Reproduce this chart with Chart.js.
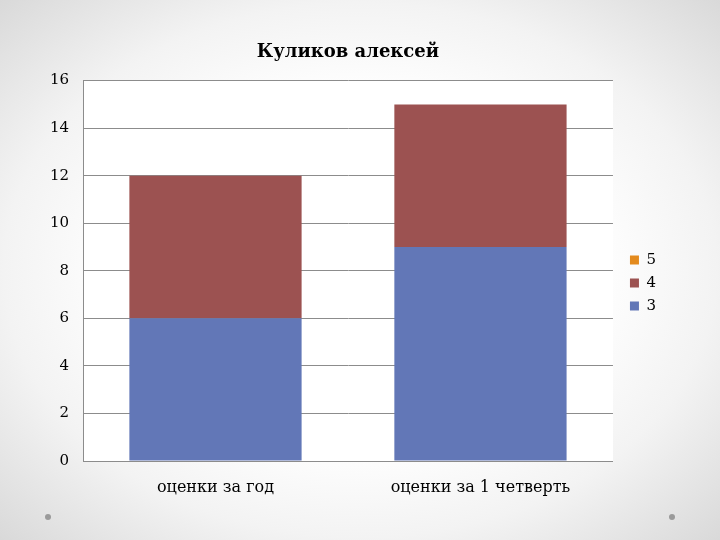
<!DOCTYPE html>
<html lang="ru">
<head>
    <meta charset="UTF-8">
    <title>Куликов алексей</title>
    <script src="https://cdn.jsdelivr.net/npm/chart.js"></script>
    <style>
        html, body {
            margin: 0;
            padding: 0;
            width: 720px;
            height: 540px;
            overflow: hidden;
        }
        body {
            background: radial-gradient(ellipse at 50% 50%, #ffffff 45%, #f3f3f3 70%, #d9d9d9 100%);
            position: relative;
        }
        .wrap {
            position: absolute;
            left: 0;
            top: 0;
            width: 720px;
            height: 540px;
        }
        .dot {
            position: absolute;
            width: 6px;
            height: 6px;
            border-radius: 50%;
            background: #9a9a9a;
            top: 514px;
        }
    </style>
</head>
<body>
    <div class="wrap"><canvas id="chart" width="720" height="540"></canvas></div>
    <div class="dot" style="left:45px"></div>
    <div class="dot" style="left:669px"></div>

    <script>
        // chart data
        const categories = ['оценки за год', 'оценки за 1 четверть'];
        const grade3 = [6, 9];
        const grade4 = [6, 6];
        const grade5 = [0, 0];
        const yTicks = [0, 2, 4, 6, 8, 10, 12, 14, 16];

        const serif = '"DejaVu Serif", "Liberation Serif", serif';

        // white plot area
        const plotBg = {
            id: 'plotBg',
            beforeDraw(chart) {
                const a = chart.chartArea;
                const ctx = chart.ctx;
                ctx.save();
                ctx.fillStyle = '#ffffff';
                ctx.fillRect(a.left, a.top, a.right - a.left, a.bottom - a.top);
                ctx.restore();
            }
        };

        new Chart(document.getElementById('chart'), {
            type: 'bar',
            data: {
                labels: categories,
                datasets: [
                    { label: '3', data: grade3, backgroundColor: '#6277b7' },
                    { label: '4', data: grade4, backgroundColor: '#9c5251' },
                    { label: '5', data: grade5, backgroundColor: '#e38a1d' }
                ]
            },
            options: {
                responsive: false,
                animation: false,
                layout: { padding: { top: 42, right: 54, bottom: 16, left: 0 } },
                datasets: {
                    bar: { barPercentage: 1, categoryPercentage: 0.65 }
                },
                plugins: {
                    title: {
                        display: true,
                        fullSize: false,
                        text: 'Куликов алексей',
                        color: '#000',
                        font: { family: serif, size: 18, weight: 'bold' },
                        padding: { top: 0, bottom: 17 }
                    },
                    legend: {
                        position: 'right',
                        reverse: true,
                        labels: {
                            boxWidth: 9,
                            boxHeight: 9,
                            padding: 8,
                            color: '#000',
                            font: { family: serif, size: 15 }
                        }
                    },
                    tooltip: { enabled: false }
                },
                scales: {
                    x: {
                        stacked: true,
                        grid: { display: false, drawTicks: false },
                        border: { color: '#8c8c8c' },
                        ticks: {
                            color: '#000',
                            padding: 17,
                            font: { family: serif, size: 16 }
                        },
                        afterFit(scale) { scale.height = 63; }
                    },
                    y: {
                        stacked: true,
                        min: 0,
                        max: 16,
                        afterBuildTicks(scale) {
                            scale.ticks = yTicks.map(v => ({ value: v }));
                        },
                        grid: { color: '#8c8c8c', drawTicks: false },
                        border: { color: '#8c8c8c' },
                        ticks: {
                            color: '#000',
                            padding: 14,
                            font: { family: serif, size: 15 }
                        },
                        afterFit(scale) { scale.width = 83; }
                    },
                    // empty spacer between plot and legend
                    gap: {
                        type: 'linear',
                        position: 'right',
                        grid: { display: false, drawTicks: false },
                        border: { display: false },
                        ticks: { display: false },
                        afterFit(scale) { scale.width = 9; }
                    }
                }
            },
            plugins: [plotBg]
        });
    </script>
</body>
</html>
